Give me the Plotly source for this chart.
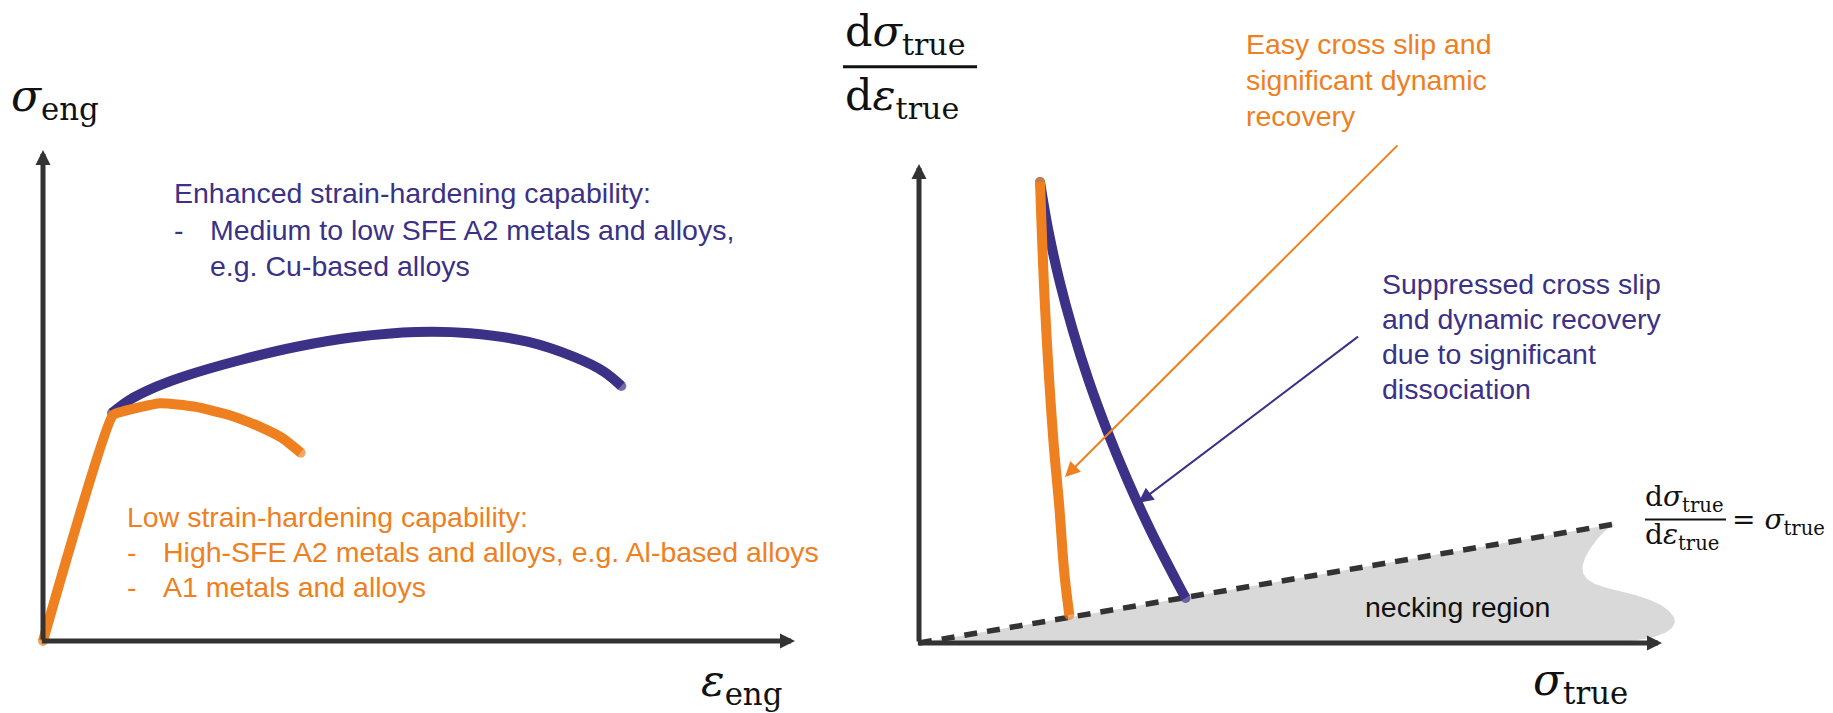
import plotly.graph_objects as go

W, H = 1833, 713

# ---------------- data (arbitrary schematic units, axes run 0..100) ----------------
# Engineering stress-strain curves
eng_low_strain = [0, 9.31, 10.48, 15.57, 20.16, 24.73, 28.80, 31.86, 34.26]
eng_low_stress = [0, 46.03, 46.70, 48.41, 47.72, 46.03, 43.65, 41.28, 38.35]
eng_high_strain = [9.18, 11.50, 15.07, 18.62, 26.26, 33.90, 41.53, 49.67, 56.78, 64.43, 70.53, 74.60, 76.90]
eng_high_stress = [46.44, 49.08, 51.79, 53.83, 57.23, 59.98, 61.91, 62.93, 62.67, 60.96, 57.90, 54.85, 51.94]

# Strain-hardening rate vs true stress
easy_stress = [16.29, 16.96, 18.08, 18.88, 19.56, 20.23]
easy_rate = [96.24, 70.2, 42.4, 28.5, 14.6, 5.85]
supp_stress = [16.29, 17.40, 18.88, 20.69, 22.81, 25.28, 28.05, 31.14, 34.58, 35.88]
supp_rate = [96.24, 86.22, 75.78, 65.34, 54.91, 44.47, 34.03, 23.59, 13.15, 9.39]

# Considère criterion line and necking region outline
considere_stress = [0, 93.67]
considere_rate = [0, 24.84]
necking_stress = [0, 93.67, 92.46, 91.39, 90.31, 89.64, 89.30, 89.37, 89.91, 90.98, 92.60,
                  94.62, 96.64, 98.38, 99.87, 100.94, 101.61, 101.75, 101.35, 100.40,
                  98.65, 96.37, 94.35, 0]
necking_rate = [0, 24.84, 23.59, 21.92, 19.62, 17.75, 16.08, 14.61, 13.36, 12.32, 11.48,
                10.75, 9.92, 8.98, 7.93, 6.68, 5.43, 4.38, 3.13, 2.09,
                1.15, 0.52, 0.21, 0]

# Pointer arrows (tail -> head) in the right panel
easy_arrow = [(64.6, 104.2), (19.65, 34.66)]
supp_arrow = [(59.29, 64.2), (29.52, 29.29)]

# Text
high_lines = ["Enhanced strain-hardening capability:",
              "Medium to low SFE A2 metals and alloys,",
              "e.g. Cu-based alloys"]
low_lines = ["Low strain-hardening capability:",
             "High-SFE A2 metals and alloys, e.g. Al-based alloys",
             "A1 metals and alloys"]
easy_lines = ["Easy cross slip and", "significant dynamic", "recovery"]
supp_lines = ["Suppressed cross slip", "and dynamic recovery",
              "due to significant", "dissociation"]
necking_label = "necking region"

# ---------------- styling ----------------
ORANGE = "#EE801F"
BLUE = "#3B3187"
DARK = "#333333"
GREY = "#D9D9D9"
INK = "#111111"
SANS = "Liberation Sans, Arial, sans-serif"
SERIF = "DejaVu Serif, serif"
TXT = 28.5
LW = 10

SPLIT = 0.46  # paper fraction where the right panel starts


def axis_range(px_lo, px_hi, origin_px, tip_px):
    """Range for an axis whose value 0 sits at origin_px and 100 at tip_px."""
    k = (tip_px - origin_px) / 100.0
    return sorted([(px_lo - origin_px) / k, (px_hi - origin_px) / k])


def curve(x, y, color, xa, ya, smoothing=1.0):
    caps = [LW] + [0] * (len(x) - 2) + [LW]
    return go.Scatter(x=x, y=y, mode="lines+markers",
                      line=dict(color=color, width=LW, shape="spline", smoothing=smoothing),
                      marker=dict(size=caps, color=color, line=dict(width=0)),
                      xaxis=xa, yaxis=ya, hoverinfo="skip")


fig = go.Figure()

# left panel: engineering stress-strain
fig.add_trace(curve(eng_high_strain, eng_high_stress, BLUE, "x", "y", 1.0))
fig.add_trace(curve(eng_low_strain, eng_low_stress, ORANGE, "x", "y", 0.5))

# right panel: hardening rate
fig.add_trace(go.Scatter(x=necking_stress, y=necking_rate, mode="lines", fill="toself",
                         fillcolor=GREY, line=dict(width=0, color=GREY),
                         xaxis="x2", yaxis="y2", hoverinfo="skip"))
fig.add_trace(go.Scatter(x=considere_stress, y=considere_rate, mode="lines",
                         line=dict(color=DARK, width=5.5, dash="13px,10px"),
                         xaxis="x2", yaxis="y2", hoverinfo="skip"))
fig.add_trace(curve(supp_stress, supp_rate, BLUE, "x2", "y2", 1.0))
fig.add_trace(curve(easy_stress, easy_rate, ORANGE, "x2", "y2", 1.0))

ann = []


def axis_arrows(xr, yr, xpad):
    common = dict(xref=xr, yref=yr, axref=xr, ayref=yr, showarrow=True, text="",
                  arrowhead=2, arrowwidth=5, arrowsize=0.6, arrowcolor=DARK, standoff=0)
    return [dict(x=100, y=0, ax=xpad, ay=0, **common),
            dict(x=0, y=100, ax=0, ay=0, **common)]


ann += axis_arrows("x", "y", -0.35)
ann += axis_arrows("x2", "y2", -0.35)

# pointer arrows
for (tail, head), col in ((easy_arrow, ORANGE), (supp_arrow, BLUE)):
    ann.append(dict(xref="x2", yref="y2", axref="x2", ayref="y2",
                    x=head[0], y=head[1], ax=tail[0], ay=tail[1], text="",
                    showarrow=True, arrowhead=2, arrowwidth=2, arrowsize=1.5,
                    arrowcolor=col, standoff=0))


def ptext(text, xpx, ypx, color, size=TXT, family=SANS, xanchor="left"):
    return dict(xref="paper", yref="paper", x=xpx / W, y=1 - ypx / H, text=text,
                showarrow=False, xanchor=xanchor, yanchor="middle",
                font=dict(family=family, size=size, color=color))


# left panel annotations
ann.append(ptext(high_lines[0], 172, 193, BLUE))
ann.append(ptext("-", 172, 230, BLUE))
ann.append(ptext(high_lines[1], 208, 230, BLUE))
ann.append(ptext(high_lines[2], 208, 266.5, BLUE))

ann.append(ptext(low_lines[0], 125, 517, ORANGE))
ann.append(ptext("-", 125, 552, ORANGE))
ann.append(ptext(low_lines[1], 161, 552, ORANGE))
ann.append(ptext("-", 125, 587, ORANGE))
ann.append(ptext(low_lines[2], 161, 587, ORANGE))

# right panel annotations
for i, line in enumerate(easy_lines):
    ann.append(ptext(line, 1244, 44 + 36 * i, ORANGE))
for i, line in enumerate(supp_lines):
    ann.append(ptext(line, 1380, 284 + 35 * i, BLUE))
ann.append(ptext(necking_label, 1457, 607, INK, xanchor="center"))

# axis titles
ann.append(ptext("<i>σ</i><sub>eng</sub>", 9, 99, INK, size=44, family=SERIF))
ann.append(ptext("<i>ε</i><sub>eng</sub>", 699, 683, INK, size=44, family=SERIF))
ann.append(ptext("<i>σ</i><sub>true</sub>", 1531, 682, INK, size=44, family=SERIF))

# d sigma / d epsilon title
ann.append(ptext("d<i>σ</i><sub>true</sub>", 843, 34, INK, size=43, family=SERIF))
ann.append(ptext("d<i>ε</i><sub>true</sub>", 843, 98, INK, size=43, family=SERIF))

# Considère criterion label
ann.append(ptext("d<i>σ</i><sub>true</sub>", 1643, 499, INK, size=28, family=SERIF))
ann.append(ptext("d<i>ε</i><sub>true</sub>", 1643, 536, INK, size=28, family=SERIF))
ann.append(ptext("= <i>σ</i><sub>true</sub>", 1730, 521, INK, size=28, family=SERIF))

shapes = [
    dict(type="line", xref="paper", yref="paper", x0=843 / W, x1=977 / W,
         y0=1 - 66.7 / H, y1=1 - 66.7 / H, line=dict(color=INK, width=3)),
    dict(type="line", xref="paper", yref="paper", x0=1645 / W, x1=1726 / W,
         y0=1 - 519.5 / H, y1=1 - 519.5 / H, line=dict(color=INK, width=2)),
]

split_px = SPLIT * W
fig.update_layout(
    width=W, height=H,
    margin=dict(l=0, r=0, t=0, b=0),
    paper_bgcolor="white", plot_bgcolor="white",
    showlegend=False,
    xaxis=dict(domain=[0, SPLIT], range=axis_range(0, split_px, 43, 795), visible=False),
    yaxis=dict(domain=[0, 1], range=axis_range(H, 0, 641, 150), visible=False),
    xaxis2=dict(domain=[SPLIT, 1], range=axis_range(split_px, W, 919, 1662), visible=False,
                anchor="y2"),
    yaxis2=dict(domain=[0, 1], range=axis_range(H, 0, 643, 164), visible=False,
                anchor="x2"),
    annotations=ann,
    shapes=shapes,
)

fig.write_html("out.html")
